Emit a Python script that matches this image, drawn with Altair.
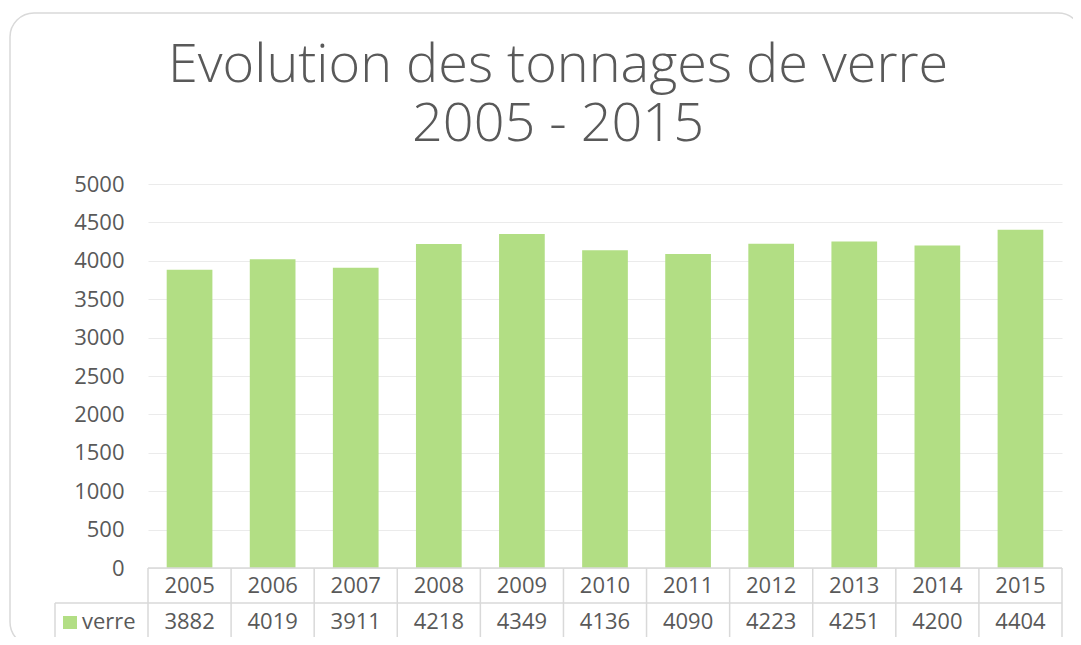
import altair as alt
import pandas as pd

# ---- data ----
years = ["2005", "2006", "2007", "2008", "2009", "2010", "2011", "2012", "2013", "2014", "2015"]
verre = [3882, 4019, 3911, 4218, 4349, 4136, 4090, 4223, 4251, 4200, 4404]
y_ticks = [0, 500, 1000, 1500, 2000, 2500, 3000, 3500, 4000, 4500, 5000]
series_name = "verre"
title_lines = ["Evolution des tonnages de verre", "2005 - 2015"]

# ---- style ----
FONT = "Open Sans"
GRAY = "#595959"
LINE = "#d9d9d9"
GREEN = "#b2de84"
W, H = 914, 384
STEP = W / len(years)

df = pd.DataFrame({"year": years, "verre": verre})
one = pd.DataFrame({"k": [0]})

xscale = alt.Scale(domain=years, paddingInner=0.45, paddingOuter=0.225)
X = alt.X("year:N", scale=xscale, axis=None)

base = alt.Chart(df)

bars = base.mark_bar(color=GREEN).encode(
    x=X,
    y=alt.Y(
        "verre:Q",
        scale=alt.Scale(domain=[0, 5000], nice=False),
        axis=alt.Axis(
            values=y_ticks,
            format="d",
            title=None,
            domain=False,
            ticks=False,
            labelPadding=24,
            labelFontSize=22,
            labelFont=FONT,
            labelColor=GRAY,
            gridColor="#ebebeb",
            gridWidth=1.2,
        ),
    ),
)

# table grid: vertical separators at band boundaries
vlines = base.mark_rule(color=LINE, strokeWidth=1.5, xOffset=-STEP / 2).encode(
    x=X, y=alt.value(384), y2=alt.value(456)
)
deco = alt.Chart(one)
vlast = deco.mark_rule(color=LINE, strokeWidth=1.5).encode(
    x=alt.value(W), y=alt.value(384), y2=alt.value(456)
)
vleft = deco.mark_rule(color=LINE, strokeWidth=1.5).encode(
    x=alt.value(-93), y=alt.value(419), y2=alt.value(456)
)
h_top = deco.mark_rule(color=LINE, strokeWidth=1.5).encode(
    x=alt.value(0), x2=alt.value(W), y=alt.value(384)
)
h_mid = deco.mark_rule(color=LINE, strokeWidth=1.5).encode(
    x=alt.value(-93), x2=alt.value(W), y=alt.value(419)
)
h_bot = deco.mark_rule(color=LINE, strokeWidth=1.5).encode(
    x=alt.value(-93), x2=alt.value(W), y=alt.value(456)
)

year_text = base.mark_text(font=FONT, fontSize=22, color=GRAY, baseline="middle").encode(
    x=X, y=alt.value(402), text="year:N"
)
val_text = base.mark_text(font=FONT, fontSize=22, color=GRAY, baseline="middle").encode(
    x=X, y=alt.value(438), text=alt.Text("verre:Q", format="d")
)

leg_sq = deco.mark_rect(color=GREEN).encode(
    x=alt.value(-85), x2=alt.value(-71), y=alt.value(432), y2=alt.value(445)
)
leg_txt = alt.Chart(pd.DataFrame({"t": [series_name]})).mark_text(
    font=FONT, fontSize=22, color=GRAY, align="left", baseline="middle"
).encode(x=alt.value(-66), y=alt.value(438), text="t:N")

title = deco.mark_text(
    text=title_lines, font=FONT, fontSize=54, fontWeight=300, color=GRAY,
    align="center", baseline="alphabetic", lineHeight=59,
).encode(x=alt.value(410), y=alt.value(-102))

border = deco.mark_rect(
    fill="white", fillOpacity=0, stroke=LINE, strokeWidth=1.5, cornerRadius=24
).encode(x=alt.value(-138), x2=alt.value(934), y=alt.value(-171), y2=alt.value(462))

chart = alt.layer(
    border, bars, vlines, vlast, vleft, h_top, h_mid, h_bot,
    year_text, val_text, leg_sq, leg_txt, title,
).properties(
    width=W,
    height=H,
    autosize=alt.AutoSizeParams(type="none"),
    padding={"left": 140, "top": 176, "right": 11, "bottom": 69},
    background="white",
).configure_view(stroke=None)

chart.save("out.html", embed_options={"renderer": "svg", "actions": False})
